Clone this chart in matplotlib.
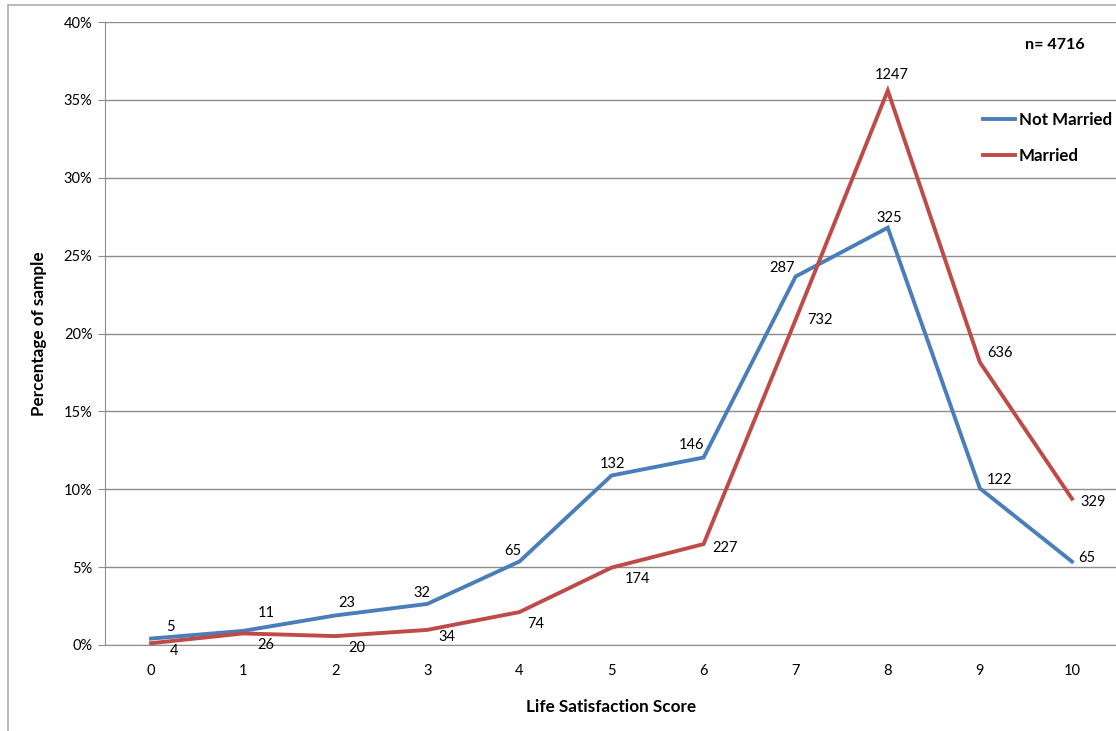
import numpy as np
import matplotlib.pyplot as plt
from matplotlib.patches import Rectangle
from matplotlib.ticker import PercentFormatter

plt.rcParams['font.family'] = ['Lato', 'DejaVu Sans']

scores = list(range(11))
not_married = [5, 11, 23, 32, 65, 132, 146, 287, 325, 122, 65]
married = [4, 26, 20, 34, 74, 174, 227, 732, 1247, 636, 329]

# label offsets in pixels (dx, dy), dy positive = upwards
nm_offsets = [(19, 12), (23, 18), (12, 12), (-5, 11), (-7, 11), (1, 12),
              (-12, 13), (-14, 8), (1, 10), (20, 8), (15, 4)]
m_offsets = [(23, -8), (23, -12), (22, -12), (20, -7), (16, -12), (26, -11),
             (21, -4), (24, 0), (4, 16), (20, 9), (21, -3)]

nm_pct = np.array(not_married) / sum(not_married) * 100
m_pct = np.array(married) / sum(married) * 100
n_total = sum(not_married) + sum(married)

blue = '#4A7EBB'
red = '#BE4B48'
grid = '#8C8C8C'

W, H = 1116, 731
fig = plt.figure(figsize=(W / 100, H / 100), dpi=100)
fig.patches.append(Rectangle((8 / W, -0.1), 1.2, 1 - 5 / H + 0.1, transform=fig.transFigure,
                             fill=False, edgecolor='#B4B4B4', linewidth=1.3))

ax = fig.add_axes([105 / W, 86 / H, (1118 - 105) / W, (709 - 86) / H])
ax.set_xlim(-0.5, 10.5)
ax.set_ylim(0, 40)
ax.set_yticks(range(0, 41, 5))
ax.yaxis.set_major_formatter(PercentFormatter(decimals=0))
ax.set_xticks(scores)
ax.grid(axis='y', color=grid, linewidth=1)
ax.set_axisbelow(True)
for side in ['top', 'right']:
    ax.spines[side].set_visible(False)
ax.spines['left'].set_color(grid)
ax.spines['bottom'].set_color(grid)
ax.tick_params(axis='y', length=5, color=grid, labelsize=10.5, pad=4)
ax.tick_params(axis='x', length=0, labelsize=10.5, pad=14)

ax.plot(scores, nm_pct, color=blue, linewidth=2.8, label='Not Married', solid_joinstyle='miter')
ax.plot(scores, m_pct, color=red, linewidth=2.8, label='Married', solid_joinstyle='miter')

for x, y, n, (dx, dy) in zip(scores, nm_pct, not_married, nm_offsets):
    ax.annotate(str(n), (x, y), xytext=(dx, dy), textcoords='offset pixels',
                ha='center', va='center', fontsize=10.5)
for x, y, n, (dx, dy) in zip(scores, m_pct, married, m_offsets):
    ax.annotate(str(n), (x, y), xytext=(dx, dy), textcoords='offset pixels',
                ha='center', va='center', fontsize=10.5)

ax.set_xlabel('Life Satisfaction Score', fontsize=12.3, fontweight='bold', labelpad=15)
ax.set_ylabel('Percentage of sample', fontsize=12.3, fontweight='bold', labelpad=12)

fig.text(1055 / W, 1 - 45 / H, f'n= {n_total}', fontsize=11.6, fontweight='bold',
         ha='center', va='center')
ax.legend(loc='upper left', bbox_to_anchor=(968 / W, 1 - 97 / H), bbox_transform=fig.transFigure,
          frameon=False, prop={'weight': 'bold', 'size': 12.2},
          handlelength=1.9, handletextpad=0.2, labelspacing=1.15)

fig.savefig('out.png', dpi=100)
